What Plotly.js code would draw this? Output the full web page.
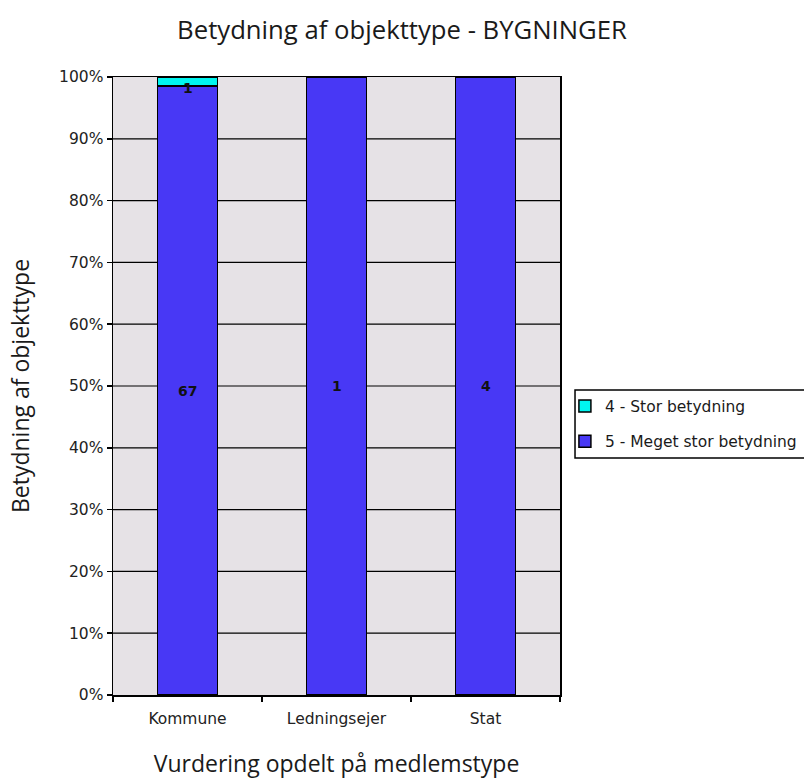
<!DOCTYPE html>
<html>
<head>
<meta charset="utf-8">
<script src="https://cdn.plot.ly/plotly-3.0.1.min.js"></script>
<style>html,body{margin:0;padding:0;background:#fff;}#chart{width:804px;height:779px;}</style>
</head>
<body>
<div id="chart"></div>
<script>
const categories = ["Kommune", "Ledningsejer", "Stat"];
const series5Name = "5 - Meget stor betydning";
const series5Values = [67, 1, 4];
const series4Name = "4 - Stor betydning";
const series4Values = [1, 0, 0];
const yTickVals = [0, 10, 20, 30, 40, 50, 60, 70, 80, 90, 100];
const yTickText = ["0%", "10%", "20%", "30%", "40%", "50%", "60%", "70%", "80%", "90%", "100%"];

const TFONT = "'Open Sans', sans-serif";
const LFONT = "'DejaVu Sans', Verdana, sans-serif";

const totals = categories.map((c, i) => series5Values[i] + series4Values[i]);

const traces = [
  {
    type: "bar", name: series5Name, x: categories, y: series5Values, legendgroup: "g5", legendrank: 2,
    marker: {color: "#4838F5", line: {color: "#000", width: 1.5}},
    hoverinfo: "none"
  },
  {
    type: "bar", name: series4Name, x: categories, y: series4Values, legendgroup: "g4", legendrank: 1,
    marker: {color: "#00F5F0", line: {color: "#000", width: 1.5}},
    hoverinfo: "none"
  }
];

const annotations = [];
categories.forEach((c, i) => {
  const t = totals[i];
  if (series5Values[i] > 0) {
    annotations.push({x: c, y: series5Values[i] / t * 50, text: "<b>" + series5Values[i] + "</b>",
      showarrow: false, font: {family: LFONT, size: 14, color: "#111"}, xref: "x", yref: "y"});
  }
  if (series4Values[i] > 0) {
    annotations.push({x: c, y: (series5Values[i] + series4Values[i] / 2) / t * 100, text: "<b>" + series4Values[i] + "</b>",
      showarrow: false, yshift: -6, font: {family: LFONT, size: 14, color: "#111"}, xref: "x", yref: "y"});
  }
});

const gridShapes = yTickVals.filter(v => v > 0 && v < 100).map(v => ({
  type: "line", xref: "paper", yref: "y", x0: 0, x1: 1, y0: v, y1: v,
  line: {color: "#000", width: 1.2}, layer: "below"
}));

const layout = {
  width: 804, height: 779,
  paper_bgcolor: "#fff", plot_bgcolor: "#E6E2E6",
  margin: {l: 113, r: 244, t: 77, b: 84, autoexpand: false},
  barmode: "stack", barnorm: "percent", bargap: 0.6,
  font: {family: TFONT, color: "#111"},
  title: {text: "Betydning af objekttype - BYGNINGER", font: {family: TFONT, size: 25.7, color: "#1a1a1a"},
    x: 0.5, xanchor: "center", xref: "container", y: 0.9615, yanchor: "middle"},
  xaxis: {
    type: "category", tickson: "boundaries", ticks: "outside", ticklen: 5, tickcolor: "#000", tickwidth: 1.5,
    showline: true, linecolor: "#000", linewidth: 1.5, mirror: true, showgrid: false,
    ticklabelstandoff: 9,
    tickfont: {family: LFONT, size: 15.5, color: "#222"},
    title: {text: "Vurdering opdelt på medlemstype", font: {family: TFONT, size: 23, color: "#1a1a1a"}, standoff: 30}
  },
  yaxis: {
    range: [0, 100], tickvals: yTickVals, ticktext: yTickText, ticks: "outside", ticklen: 5,
    tickcolor: "#000", tickwidth: 1.5,
    showline: true, linecolor: "#000", linewidth: 1.5, mirror: true,
    showgrid: false, zeroline: false,
    tickfont: {family: LFONT, size: 15.5, color: "#222"},
    title: {text: "Betydning af objekttype", font: {family: TFONT, size: 23, color: "#1a1a1a"}, standoff: 23}
  },
  legend: {
    x: 1.011, xanchor: "left", y: 0.4385, yanchor: "middle", traceorder: "grouped",
    tracegroupgap: 12, bgcolor: "rgba(0,0,0,0)", borderwidth: 0,
    font: {family: LFONT, size: 15.5, color: "#1a1a1a"}, itemwidth: 30
  },
  shapes: gridShapes.concat([{
    type: "rect", xref: "paper", yref: "paper", x0: 1.0336, x1: 1.7, y0: 0.3835, y1: 0.4935,
    line: {color: "#000", width: 1.5}, fillcolor: "rgba(0,0,0,0)", layer: "above"
  }]),
  annotations: annotations
};

Plotly.newPlot("chart", traces, layout, {displayModeBar: false, staticPlot: true});
</script>
</body>
</html>
